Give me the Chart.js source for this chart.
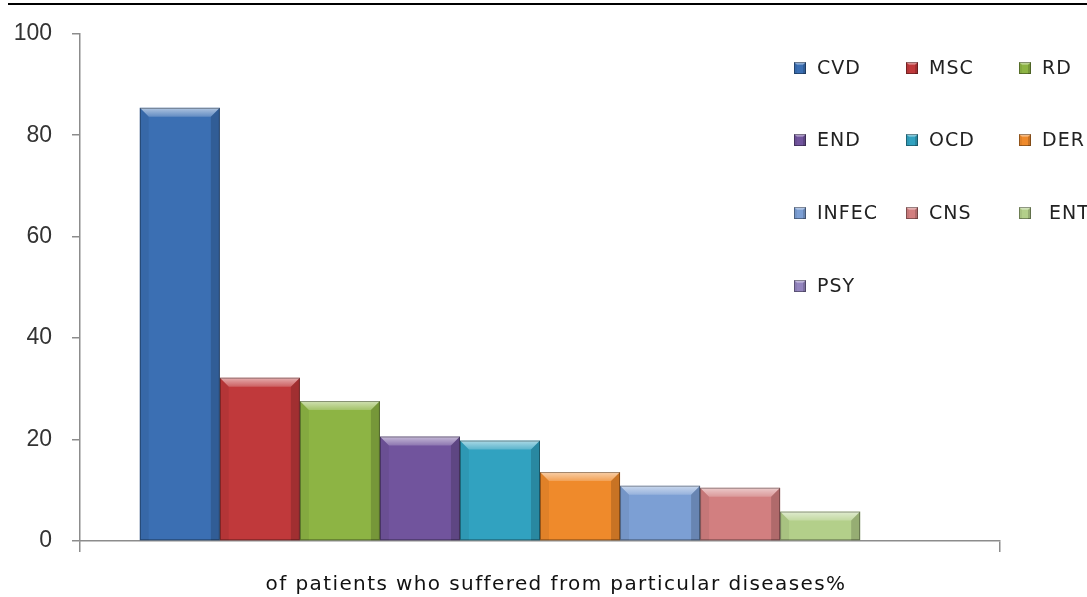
<!DOCTYPE html>
<html>
<head>
<meta charset="utf-8">
<script src="https://cdn.jsdelivr.net/npm/chart.js@4.4.1/dist/chart.umd.min.js"></script>
<style>
  html, body { margin: 0; padding: 0; background: #ffffff; }
  #wrap { position: relative; width: 1087px; height: 597px; }
</style>
</head>
<body>
<div id="wrap"><canvas id="c" width="1087" height="597"></canvas></div>
<script>
// Disease groups, one bar each
const categories = ['CVD', 'MSC', 'RD', 'END', 'OCD', 'DER', 'INFEC', 'CNS', 'ENT', 'PSY'];
const legendLabels = ['CVD', 'MSC', 'RD', 'END', 'OCD', 'DER', 'INFEC', 'CNS', ' ENT', 'PSY'];
// Share of patients (%) per disease group
const percentages = [85.4, 32.2, 27.6, 20.6, 19.8, 13.6, 10.9, 10.5, 5.8, 0];
const barColors = ['#3b6fb3', '#c0393b', '#8db444', '#71549d', '#31a2c0', '#ef8a2b', '#7c9fd4', '#d27f80', '#b3cf8a', '#9485bf'];
const yTicks = [0, 20, 40, 60, 80, 100];
const xTitle = 'of patients who suffered from particular diseases%';

const axisGrey = '#8c8c8c';

// Thin black rule along the top edge
const topRule = {
  id: 'topRule',
  afterDraw(chart) {
    const ctx = chart.ctx;
    ctx.save();
    ctx.strokeStyle = '#000';
    ctx.lineWidth = 2;
    ctx.beginPath();
    ctx.moveTo(8, 4);
    ctx.lineTo(chart.width, 4);
    ctx.stroke();
    ctx.restore();
  }
};

// Bevelled look for each bar (light top edge, shaded sides, dark outline)
function bevel(ctx, left, top, right, bottom, b) {
  ctx.save();
  // top bevel
  const g = ctx.createLinearGradient(0, top, 0, top + b);
  g.addColorStop(0, 'rgba(255,255,255,0.6)');
  g.addColorStop(1, 'rgba(255,255,255,0.2)');
  ctx.fillStyle = g;
  ctx.beginPath();
  ctx.moveTo(left, top); ctx.lineTo(right, top);
  ctx.lineTo(right - b, top + b); ctx.lineTo(left + b, top + b);
  ctx.closePath(); ctx.fill();
  // left side
  ctx.fillStyle = 'rgba(0,0,0,0.06)';
  ctx.beginPath();
  ctx.moveTo(left, top); ctx.lineTo(left + b, top + b);
  ctx.lineTo(left + b, bottom); ctx.lineTo(left, bottom);
  ctx.closePath(); ctx.fill();
  // right side
  ctx.fillStyle = 'rgba(0,0,0,0.16)';
  ctx.beginPath();
  ctx.moveTo(right, top); ctx.lineTo(right - b, top + b);
  ctx.lineTo(right - b, bottom); ctx.lineTo(right, bottom);
  ctx.closePath(); ctx.fill();
  // outline
  ctx.strokeStyle = 'rgba(0,0,0,0.35)';
  ctx.lineWidth = 1;
  ctx.strokeRect(left + 0.5, top + 0.5, right - left - 1, bottom - top - 1);
  ctx.restore();
}

const barBevel = {
  id: 'barBevel',
  afterDatasetsDraw(chart) {
    const ctx = chart.ctx;
    chart.data.datasets.forEach((ds, i) => {
      const meta = chart.getDatasetMeta(i);
      meta.data.forEach(el => {
        const p = el.getProps(['x', 'y', 'base', 'width'], true);
        const left = p.x - p.width / 2, right = p.x + p.width / 2;
        const top = Math.min(p.y, p.base), bottom = Math.max(p.y, p.base);
        if (bottom - top < 1) return;
        const b = Math.min(9, (bottom - top) / 2, p.width / 2);
        bevel(ctx, left, top, right, bottom, b);
      });
    });
  }
};

// Legend laid out as a three-column grid
const gridLegend = {
  id: 'gridLegend',
  afterDraw(chart) {
    const ctx = chart.ctx;
    const colX = [794, 906, 1019];
    const rowY = [68, 140, 213, 286];
    const size = 12;
    ctx.save();
    ctx.font = '19px "DejaVu Sans"';
    ctx.letterSpacing = '1px';
    ctx.textBaseline = 'middle';
    ctx.textAlign = 'left';
    chart.data.datasets.forEach((ds, i) => {
      const x = colX[i % 3], y = rowY[Math.floor(i / 3)];
      ctx.fillStyle = ds.backgroundColor;
      ctx.fillRect(x, y - size / 2, size, size);
      bevel(ctx, x, y - size / 2, x + size, y + size / 2, 3);
      ctx.fillStyle = '#222';
      ctx.fillText(legendLabels[i], x + 23, y + 1);
    });
    ctx.restore();
  }
};

// Axis caption under the category axis
const xCaption = {
  id: 'xCaption',
  afterDraw(chart) {
    const ctx = chart.ctx;
    const xs = chart.scales.x;
    ctx.save();
    ctx.font = '20px "DejaVu Sans"';
    ctx.letterSpacing = '1.4px';
    ctx.fillStyle = '#111';
    ctx.textAlign = 'center';
    ctx.textBaseline = 'middle';
    ctx.fillText(xTitle, (xs.left + xs.right) / 2 + 16, 585);
    ctx.restore();
  }
};

new Chart(document.getElementById('c'), {
  type: 'bar',
  data: {
    labels: [''],
    datasets: categories.map((name, i) => ({
      label: name,
      data: [percentages[i]],
      backgroundColor: barColors[i],
      borderWidth: 0,
      categoryPercentage: 0.87,
      barPercentage: 1.0
    }))
  },
  options: {
    responsive: false,
    animation: false,
    layout: { padding: { top: 26, right: 87, bottom: 0, left: 0 } },
    plugins: {
      legend: { display: false },
      tooltip: { enabled: false },
      title: { display: false }
    },
    scales: {
      x: {
        offset: true,
        grid: { display: true, drawOnChartArea: false, drawTicks: true, tickLength: 11, color: axisGrey, offset: true, lineWidth: 1.5 },
        border: { color: axisGrey, width: 1.5 },
        ticks: { display: false },
        afterFit(s) { s.height = 56; }
      },
      y: {
        min: 0,
        max: 100,
        afterBuildTicks(s) { s.ticks = yTicks.map(v => ({ value: v })); },
        ticks: {
          font: { family: '"Liberation Sans"', size: 23 },
          color: '#333',
          padding: 20
        },
        grid: { display: true, drawOnChartArea: false, drawTicks: true, tickLength: 8, color: axisGrey, lineWidth: 1.5 },
        border: { color: axisGrey, width: 1.5 },
        afterFit(s) { s.width = 80; }
      }
    }
  },
  plugins: [barBevel, gridLegend, xCaption, topRule]
});
</script>
</body>
</html>
